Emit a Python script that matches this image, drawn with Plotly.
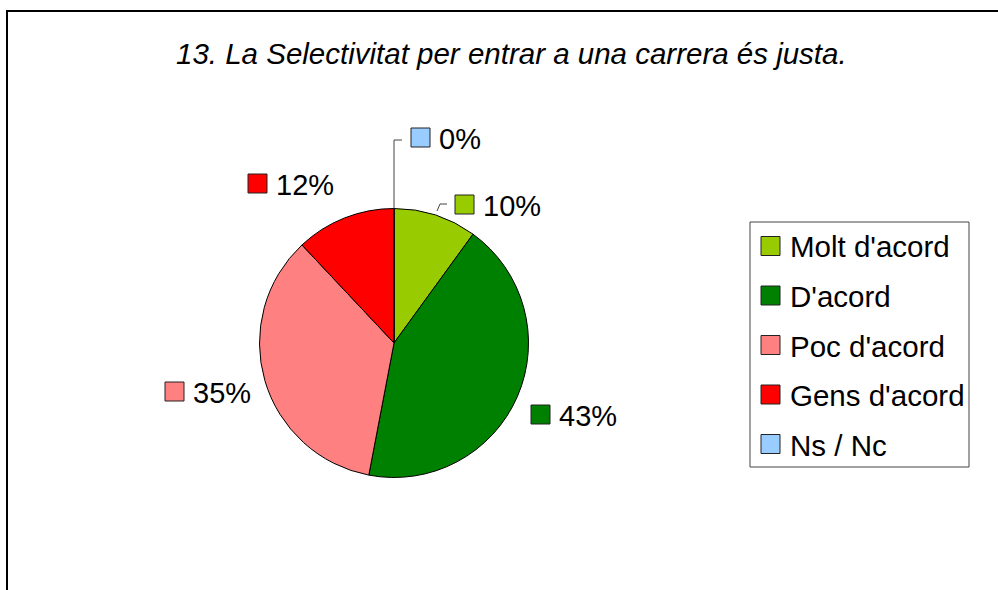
import plotly.graph_objects as go

# ---- data ----
categories = ["Molt d'acord", "D'acord", "Poc d'acord", "Gens d'acord", "Ns / Nc"]
values = [10, 43, 35, 12, 0]
colors = ["#99CC00", "#008000", "#FF8080", "#FF0000", "#99CCFF"]
title_text = "13. La Selectivitat per entrar a una carrera és justa."

# ---- layout constants (pixels) ----
W, H = 998, 590
CX, CY, R = 394, 343, 134.5
FONT = "Liberation Sans, Arial, sans-serif"
SQ = 19
# top-left corner of each data label's colour square
label_sq = [(455, 195), (531, 405), (165, 382), (248, 174), (411, 128)]
# legend
LEG_BOX = (750, 222, 969, 467)
LEG_SQ_X, LEG_TXT_X, LEG_Y0, LEG_DY = 761, 791, 246, 49.5


def px(x):
    return x / W


def py(y):
    return 1 - y / H


fig = go.Figure()
fig.add_trace(go.Pie(
    labels=categories, values=values, sort=False, direction="clockwise",
    rotation=0, textinfo="none", hoverinfo="label+percent",
    marker=dict(colors=colors, line=dict(color="black", width=1)),
    domain=dict(x=[px(CX - R), px(CX + R)], y=[py(CY + R), py(CY - R)]),
    showlegend=False,
))

shapes = []
annotations = []

# outer frame
shapes.append(dict(type="rect", xref="paper", yref="paper",
                   x0=px(7), y0=py(11), x1=px(W + 20), y1=py(H + 20),
                   line=dict(color="black", width=2), fillcolor="rgba(0,0,0,0)"))

# title
annotations.append(dict(text=title_text, x=px(511), y=py(53), xref="paper", yref="paper",
                        xanchor="center", yanchor="middle", showarrow=False,
                        font=dict(family=FONT, size=29.5, color="black", style="italic")))

# data labels
total = sum(values)
for (sx, sy), v, c in zip(label_sq, values, colors):
    shapes.append(dict(type="rect", xref="paper", yref="paper",
                       x0=px(sx), y0=py(sy), x1=px(sx + SQ), y1=py(sy + SQ),
                       line=dict(color="#222222", width=1), fillcolor=c))
    pct = round(100 * v / total)
    annotations.append(dict(text=f"{pct}%", x=px(sx + SQ + 7), y=py(sy + SQ / 2 + 1),
                            xref="paper", yref="paper", xanchor="left", yanchor="middle",
                            showarrow=False, font=dict(family=FONT, size=29, color="black")))

# leader lines
leaders = [
    [(394, CY - R), (394, 140), (402, 140)],
    [(437, 211), (440, 204), (447, 204)],
]
for pts in leaders:
    path = "M " + " L ".join(f"{px(x)},{py(y)}" for x, y in pts)
    shapes.append(dict(type="path", xref="paper", yref="paper", path=path,
                       line=dict(color="#444444", width=1)))

# legend
x0, y0, x1, y1 = LEG_BOX
shapes.append(dict(type="rect", xref="paper", yref="paper",
                   x0=px(x0), y0=py(y0), x1=px(x1), y1=py(y1),
                   line=dict(color="#444444", width=1), fillcolor="white"))
for i, (cat, c) in enumerate(zip(categories, colors)):
    yc = LEG_Y0 + i * LEG_DY
    shapes.append(dict(type="rect", xref="paper", yref="paper",
                       x0=px(LEG_SQ_X), y0=py(yc - SQ / 2), x1=px(LEG_SQ_X + SQ), y1=py(yc + SQ / 2),
                       line=dict(color="#222222", width=1), fillcolor=c))
    annotations.append(dict(text=cat, x=px(LEG_TXT_X - 3), y=py(yc + 1),
                            xref="paper", yref="paper", xanchor="left", yanchor="middle",
                            showarrow=False, font=dict(family=FONT, size=29.5, color="black")))

fig.update_layout(
    width=W, height=H, autosize=False,
    margin=dict(l=0, r=0, t=0, b=0),
    paper_bgcolor="white", plot_bgcolor="white",
    shapes=shapes, annotations=annotations,
)

fig.write_html("out.html", config={"displayModeBar": False})

# remove the browser's default body margin so the figure sits at the page origin
with open("out.html", encoding="utf-8") as f:
    html = f.read()
html = html.replace("<body>", '<body style="margin:0;padding:0;">', 1)
with open("out.html", "w", encoding="utf-8") as f:
    f.write(html)
